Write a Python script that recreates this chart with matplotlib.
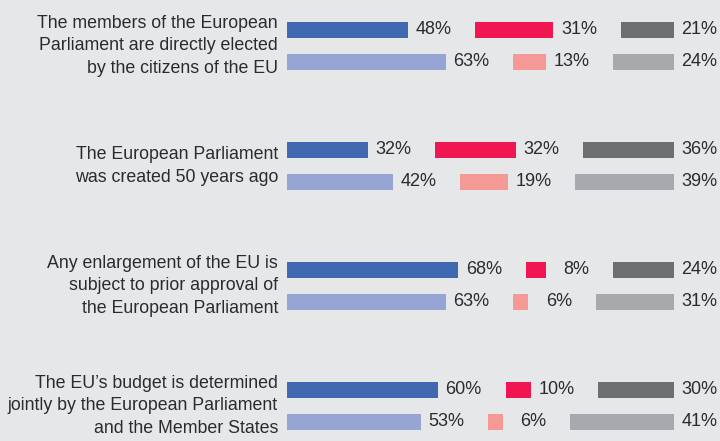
import matplotlib
matplotlib.use("Agg")
import matplotlib.pyplot as plt
import numpy as np

plt.rcParams['font.family'] = ['Liberation Sans', 'DejaVu Sans']

questions = [
    "The members of the European\nParliament are directly elected\nby the citizens of the EU",
    "The European Parliament\nwas created 50 years ago",
    "Any enlargement of the EU is\nsubject to prior approval of\nthe European Parliament",
    "The EU\u2019s budget is determined\njointly by the European Parliament\nand the Member States",
]

# top row (dark colours) and bottom row (light colours), three answers each
top_a = [48, 32, 68, 60]
top_b = [31, 32, 8, 10]
top_c = [21, 36, 24, 30]
bottom_a = [63, 42, 63, 53]
bottom_b = [13, 19, 6, 6]
bottom_c = [24, 39, 31, 41]

top_colors = ['#4169b2', '#ef1651', '#6d6e70']
bottom_colors = ['#97a5d5', '#f59997', '#a8a9ac']
bg = '#e6e7e9'
text_color = '#2b2b2b'

gap = 26.7          # space left for each percentage label (in % units)
label_off = 17.3    # right edge of label, measured from bar end
bar_h = 0.133
row_off = 0.133

fig = plt.figure(figsize=(7.2, 4.41), dpi=100, facecolor=bg)
ax = fig.add_axes([0, 0, 1, 1])
ax.set_facecolor(bg)

def draw_row(y, values, colors):
    left = 0
    for v, c in zip(values, colors):
        ax.barh(y, v, left=left, height=bar_h, color=c)
        ax.text(left + v + label_off, y, f"{v}%", ha='right', va='center',
                fontsize=13, color=text_color)
        left += v + gap

for i, q in enumerate(questions):
    draw_row(i - row_off, [top_a[i], top_b[i], top_c[i]], top_colors)
    draw_row(i + row_off, [bottom_a[i], bottom_b[i], bottom_c[i]], bottom_colors)
    ax.text(-3.6, i, q, ha='right', va='center', fontsize=12.8,
            color=text_color, linespacing=1.45)

ax.set_xlim(-113.9, 171.8)
ax.set_ylim(3.292, -0.383)
ax.axis('off')

fig.savefig('out.png', dpi=100, facecolor=bg)
